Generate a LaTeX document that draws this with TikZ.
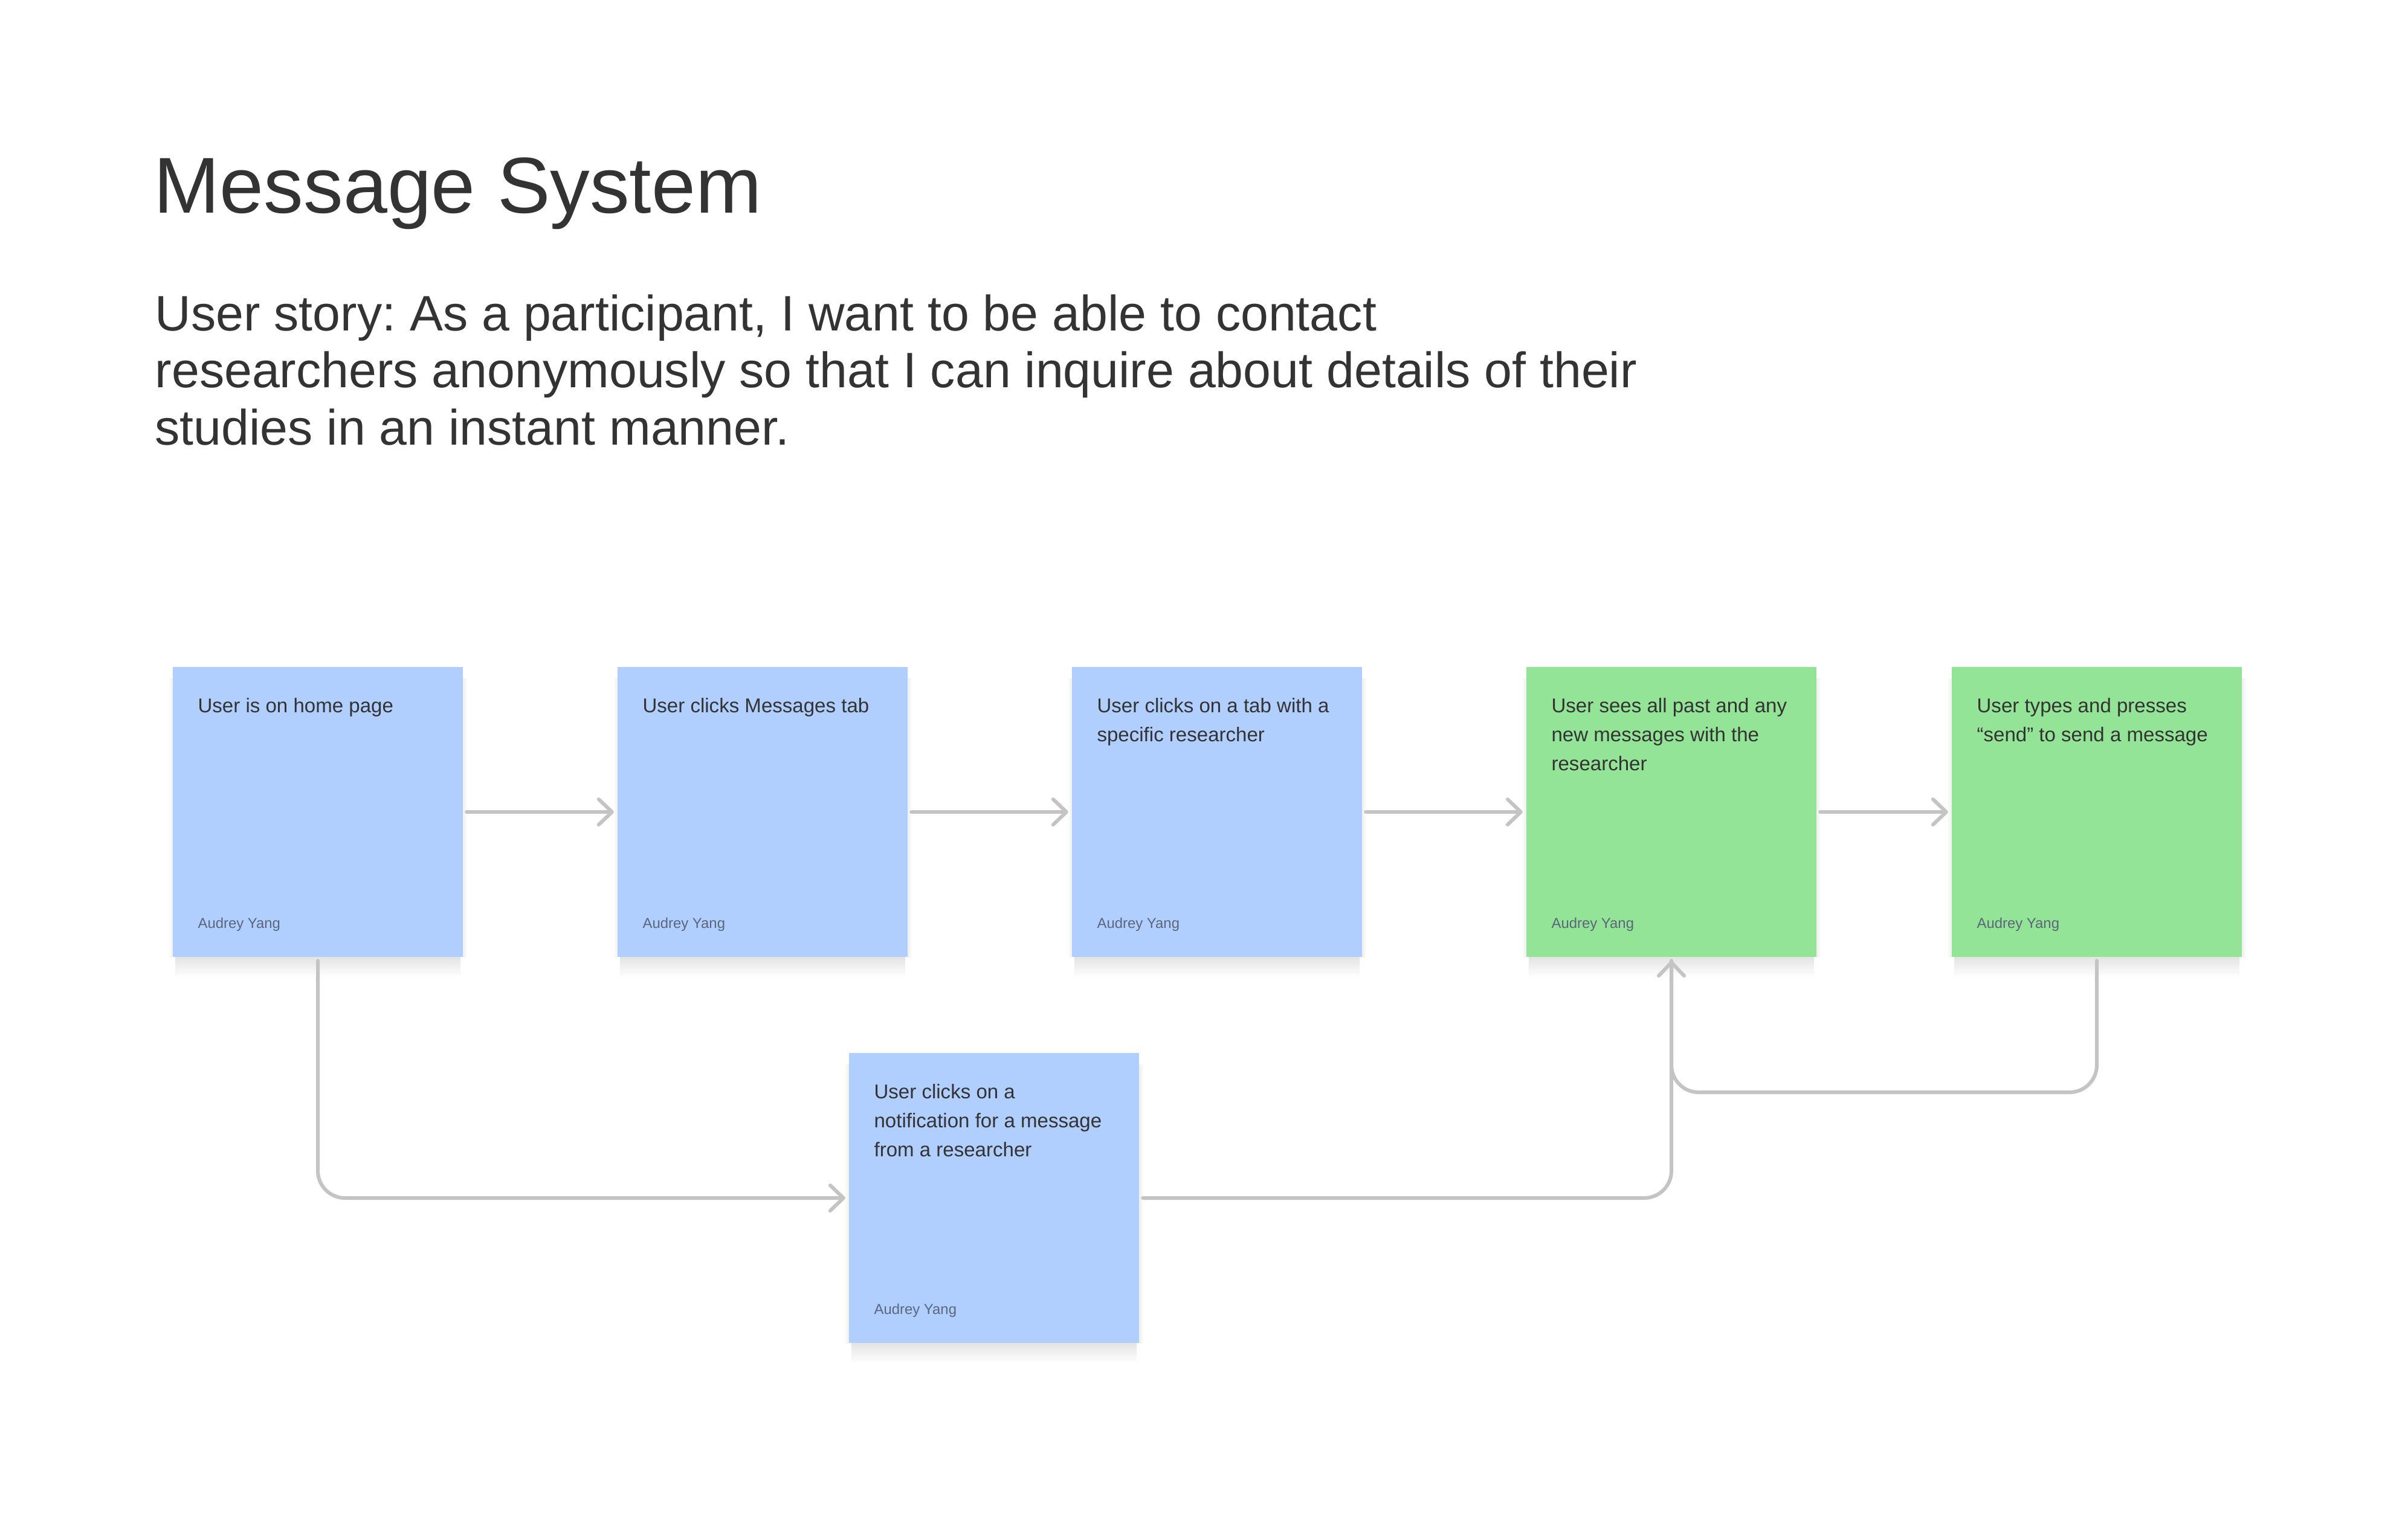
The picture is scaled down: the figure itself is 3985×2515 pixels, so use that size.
\documentclass[tikz,border=0pt]{standalone}
\usepackage{fontspec}
\setmainfont{Liberation Sans}
\frenchspacing
\usetikzlibrary{arrows.meta,calc}
\definecolor{noteblue}{RGB}{176,207,255}
\definecolor{notegreen}{RGB}{147,228,150}
\definecolor{linegray}{RGB}{196,196,196}
\definecolor{txt}{RGB}{51,51,51}
\definecolor{author}{RGB}{92,102,122}
\definecolor{shadowtop}{RGB}{228,228,228}
\tikzset{
  note/.style={rectangle, minimum width=4.8cm, minimum height=4.8cm, inner sep=0, outer sep=0, draw=none},
  bluenote/.style={note, fill=noteblue},
  greennote/.style={note, fill=notegreen},
  ntext/.style={anchor=base west, inner sep=0, text=txt, font=\fontsize{9.4pt}{11pt}\selectfont},
  atext/.style={anchor=base west, inner sep=0, text=author, font=\fontsize{6.8pt}{8pt}\selectfont},
  story/.style={anchor=base west, inner sep=0, text=txt, font=\fontsize{23.45pt}{27pt}\selectfont},
  conn/.style={draw=linegray, line width=0.06cm, line cap=round, rounded corners=0.45cm},
  tip/.style={-{Straight Barb[length=0.22cm,width=0.42cm,round]}},
  gap/.style={shorten >=0.06cm, shorten <=0.06cm},
  softshadow/.style={top color=shadowtop, bottom color=white}
}
\newcommand{\mynoteshadow}[1]{%
  \shade[softshadow] ($(#1.south west)+(4,0)$) rectangle ($(#1.south east)+(-4,34)$);
  \shade[left color=white, right color=white!94!black, draw=none] ($(#1.north west)+(-8,20)$) rectangle ($(#1.south west)+(0,0)$);
  \shade[right color=white, left color=white!94!black, draw=none] ($(#1.north east)+(0,20)$) rectangle ($(#1.south east)+(8,0)$);
}
\begin{document}
\begin{tikzpicture}[x=0.01cm,y=-0.01cm]
\useasboundingbox (0,0) rectangle (3985,2515);
\fill[white] (0,0) rectangle (3985,2515);

% title and story
\node[anchor=base west, inner sep=0, text=txt, font=\fontsize{37.3pt}{40pt}\selectfont] (title) at (254,352) {Message System};
\node[story] (s1) at (256,547) {User story: As a participant, I want to be able to contact};
\node[story] (s2) at (256,641) {researchers anonymously so that I can inquire about details of their};
\node[story] (s3) at (256,736) {studies in an instant manner.};

% notes
\node[bluenote] (n1) at (526,1344) {};
\node[bluenote] (n2) at (1262,1344) {};
\node[bluenote] (n3) at (2014,1344) {};
\node[greennote] (n4) at (2766,1344) {};
\node[greennote] (n5) at (3470,1344) {};
\node[bluenote] (n6) at (1645,1983) {};

\mynoteshadow{n1}
\mynoteshadow{n2}
\mynoteshadow{n3}
\mynoteshadow{n4}
\mynoteshadow{n5}
\mynoteshadow{n6}

% note texts
\node[ntext] (t1a) at ($(n1.north west)+(41,76)$) {User is on home page};
\node[atext] (a1) at ($(n1.south west)+(41,-48)$) {Audrey Yang};

\node[ntext] (t2a) at ($(n2.north west)+(41,76)$) {User clicks Messages tab};
\node[atext] (a2) at ($(n2.south west)+(41,-48)$) {Audrey Yang};

\node[ntext] (t3a) at ($(n3.north west)+(41,76)$) {User clicks on a tab with a};
\node[ntext] (t3b) at ($(n3.north west)+(41,124)$) {specific researcher};
\node[atext] (a3) at ($(n3.south west)+(41,-48)$) {Audrey Yang};

\node[ntext] (t4a) at ($(n4.north west)+(41,76)$) {User sees all past and any};
\node[ntext] (t4b) at ($(n4.north west)+(41,124)$) {new messages with the};
\node[ntext] (t4c) at ($(n4.north west)+(41,172)$) {researcher};
\node[atext] (a4) at ($(n4.south west)+(41,-48)$) {Audrey Yang};

\node[ntext] (t5a) at ($(n5.north west)+(41,76)$) {User types and presses};
\node[ntext] (t5b) at ($(n5.north west)+(41,124)$) {“send” to send a message};
\node[atext] (a5) at ($(n5.south west)+(41,-48)$) {Audrey Yang};

\node[ntext] (t6a) at ($(n6.north west)+(41,76)$) {User clicks on a};
\node[ntext] (t6b) at ($(n6.north west)+(41,124)$) {notification for a message};
\node[ntext] (t6c) at ($(n6.north west)+(41,172)$) {from a researcher};
\node[atext] (a6) at ($(n6.south west)+(41,-48)$) {Audrey Yang};

% connectors
\draw[conn,tip,gap] (n1.east) -- (n2.west);
\draw[conn,tip,gap] (n2.east) -- (n3.west);
\draw[conn,tip,gap] (n3.east) -- (n4.west);
\draw[conn,tip,gap] (n4.east) -- (n5.west);

\draw[conn,tip,gap] (n1.south) -- (n1.south |- n6.west) -- (n6.west);
\draw[conn,tip,gap] (n6.east) -- (n6.east -| n4.south) -- (n4.south);
\coordinate (j) at (2766,1808);
\draw[conn,gap] (n5.south) -- (n5.south |- j) -- (j) -- (n4.south);
\end{tikzpicture}
\end{document}
